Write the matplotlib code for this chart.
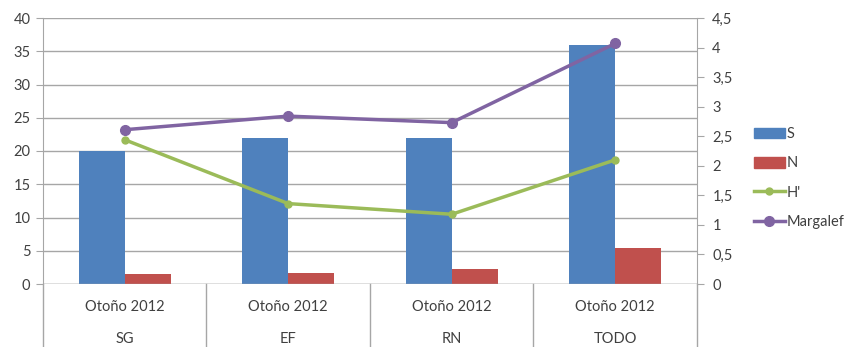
import numpy as np
import matplotlib.pyplot as plt
from matplotlib.patches import Patch
from matplotlib.lines import Line2D

plt.rcParams['font.family'] = ['Lato', 'DejaVu Sans']

sites = ['SG', 'EF', 'RN', 'TODO']
season = ['Otoño 2012'] * 4
S = [20, 22, 22, 36]
N = [1.5, 1.6, 2.2, 5.4]
H = [2.44, 1.36, 1.18, 2.10]
margalef = [2.61, 2.84, 2.73, 4.07]

blue, red, green, purple = '#4F81BD', '#C0504D', '#9BBB59', '#8064A2'
gray = '#A6A6A6'
txt = '#404040'

fig = plt.figure(figsize=(8.54, 3.47), dpi=100)
ax = fig.add_axes([43/854, 1 - 284/347, (697 - 43)/854, (284 - 18)/347])
x = np.arange(len(sites))
w = 0.28

ax.bar(x - w/2, S, w, color=blue, zorder=2)
ax.bar(x + w/2, N, w, color=red, zorder=2)
ax.set_xlim(-0.5, len(sites) - 0.5)
ax.set_ylim(0, 40)
ax.set_yticks(np.arange(0, 41, 5))
ax.yaxis.grid(True, color=gray, lw=1, zorder=0)
ax.set_xticks([])
for s in ['top', 'right', 'bottom']:
    ax.spines[s].set_visible(False)
ax.spines['left'].set_color(gray)
ax.tick_params(axis='y', colors=gray, labelcolor=txt, labelsize=10.5, length=5, pad=4)
ax.axhline(0, color=gray, lw=1, zorder=3)

ax2 = ax.twinx()
ax2.plot(x, H, color=green, lw=2.5, marker='o', ms=5, zorder=4)
ax2.plot(x, margalef, color=purple, lw=2.5, marker='o', ms=7, zorder=4)
ax2.set_ylim(0, 4.5)
ax2.set_yticks(np.arange(0, 4.6, 0.5))
ax2.set_yticklabels([f'{v:g}'.replace('.', ',') for v in np.arange(0, 4.6, 0.5)])
for s in ['top', 'left', 'bottom']:
    ax2.spines[s].set_visible(False)
ax2.spines['right'].set_color(gray)
ax2.tick_params(axis='y', colors=gray, labelcolor=txt, labelsize=10.5, length=5, pad=6)

# two-level category axis below the plot
tr = ax.get_xaxis_transform()
for i in range(len(sites)):
    ax.text(i, -0.085, season[i], transform=tr, ha='center', va='center', fontsize=10.5, color=txt)
    ax.text(i, -0.205, sites[i], transform=tr, ha='center', va='center', fontsize=10.5, color=txt)
for xb in np.arange(-0.5, len(sites), 1.0):
    ax.plot([xb, xb], [0, -0.24], transform=tr, color=gray, lw=1, clip_on=False)

handles = [Patch(color=blue), Patch(color=red),
           Line2D([], [], color=green, lw=2.5, marker='o', ms=5),
           Line2D([], [], color=purple, lw=2.5, marker='o', ms=7)]
fig.legend(handles, ['S', 'N', "H'", 'Margalef'], loc='center left',
           bbox_to_anchor=(741/854, 1 - 178/347), frameon=False, fontsize=10.5,
           handlelength=2.1, handleheight=0.75, labelspacing=1.05, handletextpad=0.1,
           labelcolor=txt)

fig.savefig('out.png', dpi=100)
